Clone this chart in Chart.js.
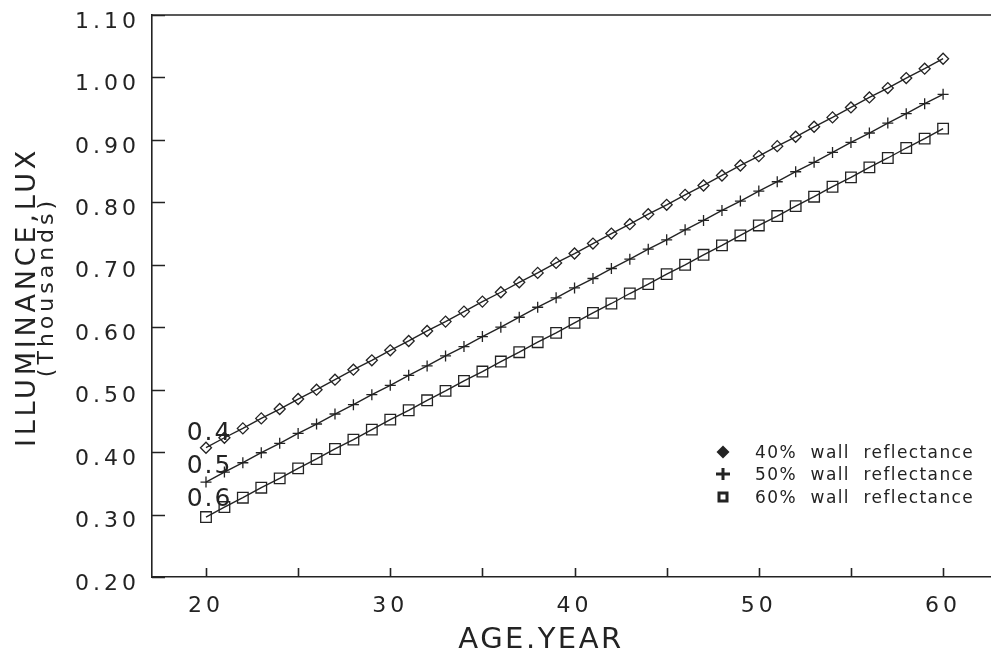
<!DOCTYPE html>
<html>
<head>
<meta charset="utf-8">
<script src="https://cdn.jsdelivr.net/npm/chart.js@4.4.1/dist/chart.umd.min.js"></script>
<style>
  html, body { margin: 0; padding: 0; background: #ffffff; overflow: hidden; }
  #wrap { width: 991px; height: 655px; }
</style>
</head>
<body>
<div id="wrap"><canvas id="illumChart" width="991" height="655"></canvas></div>
<script>
// age of occupants (x axis)
const ages = [20, 21, 22, 23, 24, 25, 26, 27, 28, 29, 30, 31, 32, 33, 34, 35, 36, 37, 38, 39, 40,
              41, 42, 43, 44, 45, 46, 47, 48, 49, 50, 51, 52, 53, 54, 55, 56, 57, 58, 59, 60];

// illuminance in thousands of lux
const wall40 = [0.407, 0.423, 0.438, 0.454, 0.469, 0.485, 0.500, 0.516, 0.532, 0.547, 0.563,
                0.578, 0.594, 0.609, 0.625, 0.641, 0.656, 0.672, 0.687, 0.703, 0.718,
                0.734, 0.750, 0.765, 0.781, 0.796, 0.812, 0.827, 0.843, 0.859, 0.874,
                0.890, 0.905, 0.921, 0.936, 0.952, 0.968, 0.983, 0.999, 1.014, 1.030];
const wall50 = [0.352, 0.368, 0.383, 0.399, 0.414, 0.430, 0.445, 0.461, 0.476, 0.492, 0.507,
                0.523, 0.538, 0.554, 0.569, 0.585, 0.600, 0.616, 0.632, 0.647, 0.663,
                0.678, 0.694, 0.709, 0.725, 0.740, 0.756, 0.771, 0.787, 0.802, 0.818,
                0.833, 0.849, 0.864, 0.880, 0.896, 0.911, 0.927, 0.942, 0.958, 0.973];
const wall60 = [0.296, 0.312, 0.327, 0.343, 0.358, 0.374, 0.389, 0.405, 0.420, 0.436, 0.452,
                0.467, 0.483, 0.498, 0.514, 0.529, 0.545, 0.560, 0.576, 0.591, 0.607,
                0.623, 0.638, 0.654, 0.669, 0.685, 0.700, 0.716, 0.731, 0.747, 0.763,
                0.778, 0.794, 0.809, 0.825, 0.840, 0.856, 0.871, 0.887, 0.902, 0.918];

const seriesNames = ['40%  wall  reflectance', '50%  wall  reflectance', '60%  wall  reflectance'];
const curveTags = ['0.4', '0.5', '0.6'];

const xTickValues = [20, 25, 30, 35, 40, 45, 50, 55, 60];
const xTickLabels = ['20', '', '30', '', '40', '', '50', '', '60'];
const yTickValues = [0.2, 0.3, 0.4, 0.5, 0.6, 0.7, 0.8, 0.9, 1.0, 1.1];

const INK = '#232323';
const FONT = 'DejaVu Sans';

Chart.defaults.font.family = FONT;
Chart.defaults.color = INK;

function toPoints(ys) {
  return ages.map((a, i) => ({ x: a, y: ys[i] }));
}

// where the little curve tags sit (baseline, in data units)
const tagSpots = [
  { x: 18.95, y: 0.420 },
  { x: 18.95, y: 0.367 },
  { x: 18.95, y: 0.313 }
];

// old plotter look: ticks point into the plot, box has a top edge
const plotFrame = {
  id: 'plotFrame',
  beforeDraw(chart) {
    chart.ctx.letterSpacing = '4px';
  },
  afterDraw(chart) {
    const { ctx, chartArea, scales } = chart;
    ctx.save();
    ctx.strokeStyle = INK;
    ctx.lineWidth = 1.6;
    ctx.beginPath();
    scales.y.ticks.forEach(t => {
      const py = Math.round(scales.y.getPixelForValue(t.value)) + 0.5;
      ctx.moveTo(chartArea.left, py);
      ctx.lineTo(chartArea.left + 13, py);
    });
    scales.x.ticks.forEach(t => {
      const px = Math.round(scales.x.getPixelForValue(t.value)) + 0.5;
      ctx.moveTo(px, chartArea.bottom);
      ctx.lineTo(px, chartArea.bottom - 9);
    });
    ctx.moveTo(chartArea.left, chartArea.top);
    ctx.lineTo(chartArea.right, chartArea.top);
    ctx.stroke();
    ctx.restore();
  }
};

function spacedText(ctx, text, x, y, size, spacing, align) {
  ctx.font = size + 'px "' + FONT + '"';
  ctx.letterSpacing = spacing + 'px';
  ctx.textAlign = align || 'left';
  ctx.textBaseline = 'alphabetic';
  ctx.fillText(text, x, y);
}

const paperText = {
  id: 'paperText',
  afterDraw(chart) {
    const { ctx, chartArea, scales } = chart;
    const midY = (chartArea.top + chartArea.bottom) / 2;
    ctx.save();
    ctx.fillStyle = INK;

    // y axis title, two overlapping lines like the original
    ctx.save();
    ctx.translate(35, midY + 1);
    ctx.rotate(-Math.PI / 2);
    spacedText(ctx, 'ILLUMINANCE,LUX', 0, 0, 27, 3.8, 'center');
    ctx.restore();
    ctx.save();
    ctx.translate(53, midY - 9);
    ctx.rotate(-Math.PI / 2);
    spacedText(ctx, '(Thousands)', 0, 0, 22, 4, 'center');
    ctx.restore();

    // x axis title
    spacedText(ctx, 'AGE.YEAR', 541, 648, 29, 2.5, 'center');

    // tags at the start of each curve
    curveTags.forEach((tag, i) => {
      const px = scales.x.getPixelForValue(tagSpots[i].x);
      const py = scales.y.getPixelForValue(tagSpots[i].y);
      spacedText(ctx, tag, px, py, 25, 2, 'left');
    });

    // legend
    const rows = [452, 474, 497];
    const symX = 723;
    ctx.strokeStyle = INK;
    rows.forEach((ry, i) => {
      ctx.beginPath();
      if (i === 0) {
        ctx.moveTo(symX, ry - 6.5);
        ctx.lineTo(symX + 6.5, ry);
        ctx.lineTo(symX, ry + 6.5);
        ctx.lineTo(symX - 6.5, ry);
        ctx.closePath();
        ctx.fill();
      } else if (i === 1) {
        ctx.lineWidth = 3;
        ctx.moveTo(symX - 7, ry);
        ctx.lineTo(symX + 7, ry);
        ctx.moveTo(symX, ry - 6);
        ctx.lineTo(symX, ry + 6);
        ctx.stroke();
      } else {
        ctx.lineWidth = 3;
        ctx.rect(symX - 4, ry - 4, 8, 8);
        ctx.stroke();
      }
      spacedText(ctx, seriesNames[i], 755, ry + 6, 17, 1.4, 'left');
    });
    ctx.restore();
  }
};

const lineStyle = {
  borderColor: INK,
  borderWidth: 1.4,
  pointBorderColor: INK,
  pointBackgroundColor: 'rgba(0,0,0,0)',
  pointBorderWidth: 1.3,
  fill: false,
  tension: 0
};

new Chart(document.getElementById('illumChart'), {
  type: 'line',
  data: {
    datasets: [
      Object.assign({ label: seriesNames[0], data: toPoints(wall40), pointStyle: 'rectRot', pointRadius: 5.5 }, lineStyle),
      Object.assign({ label: seriesNames[1], data: toPoints(wall50), pointStyle: 'cross', pointRadius: 5.5 }, lineStyle),
      Object.assign({ label: seriesNames[2], data: toPoints(wall60), pointStyle: 'rect', pointRadius: 7.5 }, lineStyle)
    ]
  },
  options: {
    responsive: false,
    animation: false,
    layout: { autoPadding: false, padding: { top: 15, left: 0, right: 0, bottom: 0 } },
    plugins: {
      legend: { display: false },
      tooltip: { enabled: false }
    },
    scales: {
      x: {
        type: 'linear',
        min: 17.07,
        max: 62.6,
        afterBuildTicks: scale => { scale.ticks = xTickValues.map(v => ({ value: v })); },
        afterFit: scale => {
          scale.height = 78;
          scale.paddingLeft = 0;
          scale.paddingRight = 0;
        },
        grid: { display: false },
        border: { display: true, color: INK, width: 1.6 },
        ticks: {
          autoSkip: false,
          maxRotation: 0,
          padding: 8,
          font: { size: 22 },
          callback: (v, i) => xTickLabels[i]
        }
      },
      y: {
        min: 0.2,
        max: 1.1,
        afterBuildTicks: scale => { scale.ticks = yTickValues.map(v => ({ value: v })); },
        afterFit: scale => {
          scale.width = 152;
          scale.paddingTop = 0;
          scale.paddingBottom = 0;
        },
        grid: { display: false },
        border: { display: true, color: INK, width: 1.6 },
        ticks: {
          padding: 4,
          labelOffset: 7,
          font: { size: 22 },
          callback: v => Number(v).toFixed(2)
        }
      }
    }
  },
  plugins: [plotFrame, paperText]
});
</script>
</body>
</html>
